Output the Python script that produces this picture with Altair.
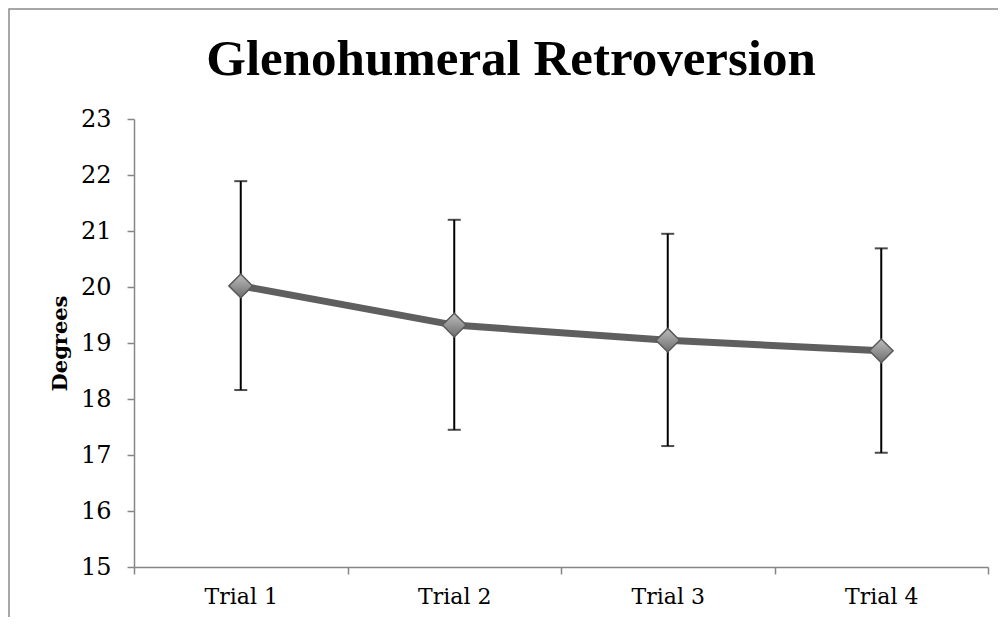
import altair as alt
import pandas as pd

trials = ["Trial 1", "Trial 2", "Trial 3", "Trial 4"]
means = [20.02, 19.32, 19.05, 18.86]
lower = [18.16, 17.45, 17.16, 17.04]
upper = [21.89, 21.20, 20.95, 20.69]
title_text = "Glenohumeral Retroversion"

df = pd.DataFrame({"trial": trials, "mean": means, "lo": lower, "hi": upper})

AX = "#868686"
x = alt.X("trial:N", sort=trials, title=None,
          scale=alt.Scale(paddingInner=0, paddingOuter=0),
          axis=alt.Axis(labelAngle=0, tickBand="extent", tickSize=7, tickColor=AX,
                        domainColor=AX, domainWidth=1.5, tickWidth=1.5,
                        labelFont="DejaVu Serif", labelFontSize=22, labelColor="black",
                        labelPadding=12, grid=False))
y_scale = alt.Scale(domain=[15, 23], nice=False, zero=False)
y = alt.Y("mean:Q", scale=y_scale, title="Degrees",
          axis=alt.Axis(values=list(range(15, 24)), format="d", tickSize=7, tickColor=AX,
                        tickWidth=1.5, domainColor=AX, domainWidth=1.5,
                        labelFont="DejaVu Serif", labelFontSize=24, labelColor="black",
                        labelPadding=16, titleFont="DejaVu Serif", titleFontSize=21,
                        titleFontWeight="bold", titleColor="black", titlePadding=10,
                        grid=False))

base = alt.Chart(df)

rules = base.mark_rule(color="black", strokeWidth=2).encode(
    x=x, y=alt.Y("lo:Q", scale=y_scale), y2="hi:Q")
cap_hi = base.mark_tick(color="black", thickness=2, size=13).encode(
    x=x, y=alt.Y("hi:Q", scale=y_scale))
cap_lo = base.mark_tick(color="black", thickness=2, size=13).encode(
    x=x, y=alt.Y("lo:Q", scale=y_scale))
line = base.mark_line(color="#5f5f5f", strokeWidth=7).encode(x=x, y=y)
points = base.mark_point(
    shape="diamond", filled=True, size=560, opacity=1,
    fill=alt.Gradient(gradient="linear", x1=0, x2=0, y1=0, y2=1,
                      stops=[alt.GradientStop(offset=0, color="#bdbdbd"),
                             alt.GradientStop(offset=1, color="#6e6e6e")]),
    stroke="#5a5a5a", strokeWidth=1.5).encode(x=x, y=y)

one = alt.Chart(pd.DataFrame({"t": [title_text]}))
frame = one.mark_rect(fill=None, stroke="#8a8a8a", strokeWidth=1.5).encode(
    x=alt.value(-125), x2=alt.value(900), y=alt.value(-110), y2=alt.value(520))
title = one.mark_text(font="Liberation Serif", fontSize=51, fontWeight="bold",
                      color="black", align="center", baseline="alphabetic").encode(
    text="t:N", x=alt.value(377), y=alt.value(-44))

chart = alt.layer(frame, rules, cap_hi, cap_lo, line, points, title).properties(
    width=854, height=448,
    padding={"left": 126, "top": 111, "right": 10, "bottom": 50},
    autosize=alt.AutoSizeParams(type="none"),
).configure_view(stroke=None)

chart.save("out.html", embed_options={"renderer": "svg", "actions": False})
